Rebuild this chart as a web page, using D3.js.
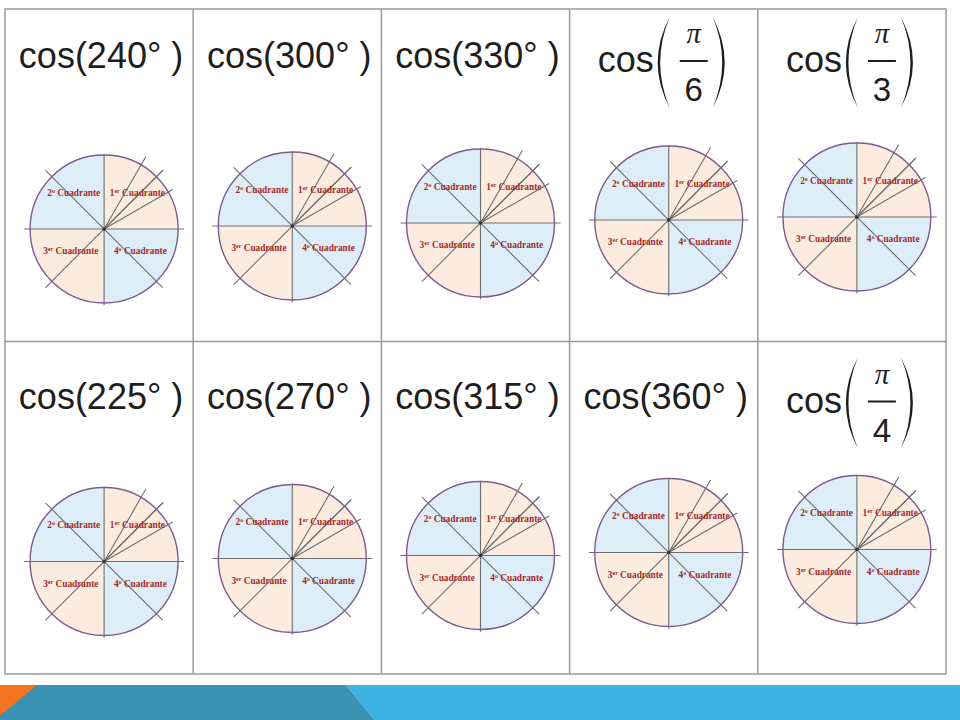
<!DOCTYPE html>
<html lang='es'>

<head>
   <meta charset='UTF-8'>
   <title>Cosenos - cuadrantes</title>
   <script src='https://d3js.org/d3.v7.min.js'></script>
   <style>
      body {
         margin: 0;
         background: #fff;
      }
   </style>
</head>

<body>
   <div id='svg-container'></div>
   <script>

      // angle shown in each cell, read row by row
      const cellAngles = ['240', '300', '330', 'π/6', 'π/3', '225', '270', '315', '360', 'π/4'];
      const rayAngles = [30, 45, 60];          // rays drawn only in the first quadrant
      const diagonalAngles = [45, 135];        // full lines through the centre
      const quadrantNumbers = ['1', '2', '3', '4'];
      const quadrantSuffixes = ['er', 'o', 'er', 'o'];
      const quadrantWord = 'Cuadrante';

      const W = 960, H = 720;
      const svg = d3.select('#svg-container').append('svg').attr('width', W).attr('height', H);

      const x = d3.scaleBand().domain(d3.range(5)).range([5, 946]);
      const y = d3.scaleBand().domain(d3.range(2)).range([9, 674]);
      const r = d3.scaleLinear().domain([0, 1]).range([0, 74]);
      const rad = a => a * Math.PI / 180;

      const titleDy = [59, 67];

      // table
      const grid = svg.append('g').attr('stroke', '#9a9a9a').attr('stroke-width', 1.5).attr('fill', 'none');
      grid.append('rect').attr('x', x.range()[0]).attr('y', y.range()[0])
         .attr('width', x.range()[1] - x.range()[0]).attr('height', y.range()[1] - y.range()[0]);
      grid.selectAll('.col').data(d3.range(1, 5)).join('line')
         .attr('x1', d => x(d)).attr('x2', d => x(d))
         .attr('y1', y.range()[0]).attr('y2', y.range()[1]);
      grid.append('line').attr('x1', x.range()[0]).attr('x2', x.range()[1])
         .attr('y1', y(1)).attr('y2', y(1));

      const quadrantColours = ['#fcecdf', '#ddeef8', '#fcecdf', '#ddeef8'];
      const arc = d3.arc().innerRadius(0).outerRadius(r(1));
      // d3.arc angles go clockwise from 12 o'clock: Q1, Q2, Q3, Q4
      const quadrantArcs = [[0, 90], [270, 360], [180, 270], [90, 180]];
      const labelPos = [[0.45, -0.45], [-0.41, -0.45], [-0.45, 0.34], [0.49, 0.34]];

      const cells = svg.selectAll('.cell').data(cellAngles).join('g').attr('class', 'cell');

      cells.each(function (angle, i) {
         const col = i % 5, row = Math.floor(i / 5);
         const g = d3.select(this);
         const cx = x(col) + x.bandwidth() / 2;
         const base = y(row) + titleDy[row];

         // title
         if (angle.includes('π/')) {
            const den = angle.split('/')[1];
            const t = g.append('g').attr('transform', `translate(${cx - 66}, ${base + 4})`)
               .attr('font-family', 'Liberation Sans, Arial, sans-serif').attr('fill', '#1e1e1e');
            t.append('text').attr('font-size', 36).text('cos');
            const paren = 'M13,-55 Q-11,-9.5 13,36 Q-6,-9.5 13,-55 Z';
            t.append('path').attr('d', paren).attr('transform', 'translate(59,0)').attr('fill', '#1e1e1e');
            t.append('path').attr('d', paren).attr('transform', 'translate(128,0) scale(-1,1)').attr('fill', '#1e1e1e');
            t.append('text').attr('x', 96).attr('y', -29).attr('text-anchor', 'middle')
               .attr('font-family', 'Liberation Serif, serif').attr('font-style', 'italic')
               .attr('font-size', 29).text('π');
            t.append('line').attr('x1', 82).attr('x2', 110).attr('y1', -11).attr('y2', -11)
               .attr('stroke', '#1e1e1e').attr('stroke-width', 2);
            t.append('text').attr('x', 96).attr('y', 29).attr('text-anchor', 'middle')
               .attr('font-size', 33).text(den);
         } else {
            g.append('text').attr('x', cx + 2).attr('y', base).attr('text-anchor', 'middle')
               .attr('font-family', 'Liberation Sans, Arial, sans-serif').attr('font-size', 36)
               .attr('fill', '#1e1e1e').text(`cos(${angle}° )`);
         }

         // unit circle
         const c = g.append('g').attr('transform', `translate(${cx + 5}, ${y(row) + 220 - col * 3})`);
         c.selectAll('.q').data(quadrantArcs).join('path')
            .attr('d', d => arc({ startAngle: rad(d[0]), endAngle: rad(d[1]) }))
            .attr('fill', (d, k) => quadrantColours[k]);

         const ln = c.append('g').attr('stroke', '#6e6e6e').attr('stroke-width', 1.1);
         ln.append('line').attr('x1', -r(1.08)).attr('x2', r(1.08)).attr('y1', 0).attr('y2', 0);
         ln.append('line').attr('x1', 0).attr('x2', 0).attr('y1', -r(1.01)).attr('y2', r(1.03));
         ln.selectAll('.diag').data(diagonalAngles).join('line')
            .attr('x1', d => r(1.12) * Math.cos(rad(d))).attr('y1', d => -r(1.12) * Math.sin(rad(d)))
            .attr('x2', d => -r(1.12) * Math.cos(rad(d))).attr('y2', d => r(1.12) * Math.sin(rad(d)));
         ln.selectAll('.ray').data(rayAngles).join('line')
            .attr('x1', 0).attr('y1', 0)
            .attr('x2', d => r(d === 30 ? 1.07 : 1.13) * Math.cos(rad(d)))
            .attr('y2', d => -r(d === 30 ? 1.07 : 1.13) * Math.sin(rad(d)));

         c.append('circle').attr('r', r(1)).attr('fill', 'none')
            .attr('stroke', '#7d5b8f').attr('stroke-width', 1.4);
         c.append('circle').attr('r', 1.8).attr('fill', '#333');

         const labels = c.selectAll('.lab').data(quadrantNumbers).join('text')
            .attr('x', (d, k) => r(labelPos[k][0])).attr('y', (d, k) => r(labelPos[k][1]))
            .attr('text-anchor', 'middle')
            .attr('font-family', 'Liberation Serif, serif').attr('font-weight', 'bold')
            .attr('font-size', 9.3).attr('fill', '#a52a2a');
         labels.append('tspan').text(d => d);
         labels.append('tspan').attr('font-size', 6).attr('dy', -3).text((d, k) => quadrantSuffixes[k]);
         labels.append('tspan').attr('dy', 3).text(' ' + quadrantWord);
      });

      // bottom banner
      const banner = svg.append('g');
      banner.append('polygon').attr('points', '0,685 346,685 375,720 0,720').attr('fill', '#3a93b4');
      banner.append('polygon').attr('points', '346,685 960,685 960,720 375,720').attr('fill', '#3cb3e0');
      banner.append('polygon').attr('points', '0,685 37,685 0,716').attr('fill', '#f37321');

   </script>
</body>

</html>
